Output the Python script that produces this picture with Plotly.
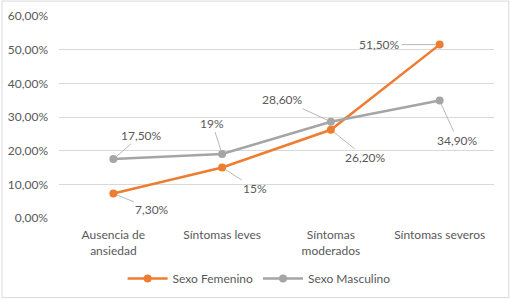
import plotly.graph_objects as go

categories = ["Ausencia de<br>ansiedad", "Síntomas leves", "Síntomas<br>moderados", "Síntomas severos"]
femenino = [0.073, 0.15, 0.262, 0.515]
masculino = [0.175, 0.19, 0.286, 0.349]
fem_labels = ["7,30%", "15%", "26,20%", "51,50%"]
mas_labels = ["17,50%", "19%", "28,60%", "34,90%"]
y_ticks = [0, 0.1, 0.2, 0.3, 0.4, 0.5, 0.6]

ORANGE = "#ED7D31"
GRAY = "#A5A5A5"
TXT = "#595959"
FONT = "Lato"

fig = go.Figure()
fig.add_trace(go.Scatter(x=categories, y=femenino, mode="lines+markers", name="Sexo Femenino",
                         line=dict(color=ORANGE, width=2.5), marker=dict(size=8, color=ORANGE)))
fig.add_trace(go.Scatter(x=categories, y=masculino, mode="lines+markers", name="Sexo Masculino",
                         line=dict(color=GRAY, width=2.5), marker=dict(size=8, color=GRAY)))

fem_off = [(39, 16), (33, 21), (35, 28), (-60, 0)]
mas_off = [(28, -24), (-10, -31), (-48, -22), (18, 40)]
for vals, labels, offs in [(femenino, fem_labels, fem_off), (masculino, mas_labels, mas_off)]:
    for c, v, t, (ax, ay) in zip(categories, vals, labels, offs):
        fig.add_annotation(x=c, y=v, text=t, showarrow=True, arrowhead=0, arrowwidth=0.8,
                           arrowcolor="#A6A6A6", ax=ax, ay=ay, standoff=4,
                           font=dict(family=FONT, size=12, color=TXT))

fig.add_shape(type="rect", xref="paper", yref="paper", x0=-0.131, x1=1.034, y0=-0.394, y1=1.074,
              line=dict(color="#D9D9D9", width=1), fillcolor="rgba(0,0,0,0)", layer="below")

fig.update_layout(
    width=510, height=299,
    margin=dict(l=59, r=16, t=16, b=81, autoexpand=False),
    paper_bgcolor="white", plot_bgcolor="white",
    separators=",.",
    font=dict(family=FONT, size=12, color=TXT),
    showlegend=True,
    legend=dict(orientation="h", x=0.46, xanchor="center", y=-0.3, yanchor="middle",
                font=dict(family=FONT, size=12, color=TXT), itemwidth=40),
    xaxis=dict(showgrid=False, zeroline=False, showline=False, ticks="", range=[-0.5, 3.5],
               automargin=False, ticklabelstandoff=8,
               tickfont=dict(family=FONT, size=12, color=TXT)),
    yaxis=dict(range=[0, 0.6], tickvals=y_ticks, tickformat=".2%", showgrid=True,
               gridcolor="#D9D9D9", gridwidth=1, zeroline=False, showline=False, automargin=False,
               tickfont=dict(family=FONT, size=12, color=TXT), ticklabelstandoff=10),
)

fig.write_html("out.html", config={"displayModeBar": False},
               post_script="document.body.style.margin='0';document.body.style.overflow='hidden';")
